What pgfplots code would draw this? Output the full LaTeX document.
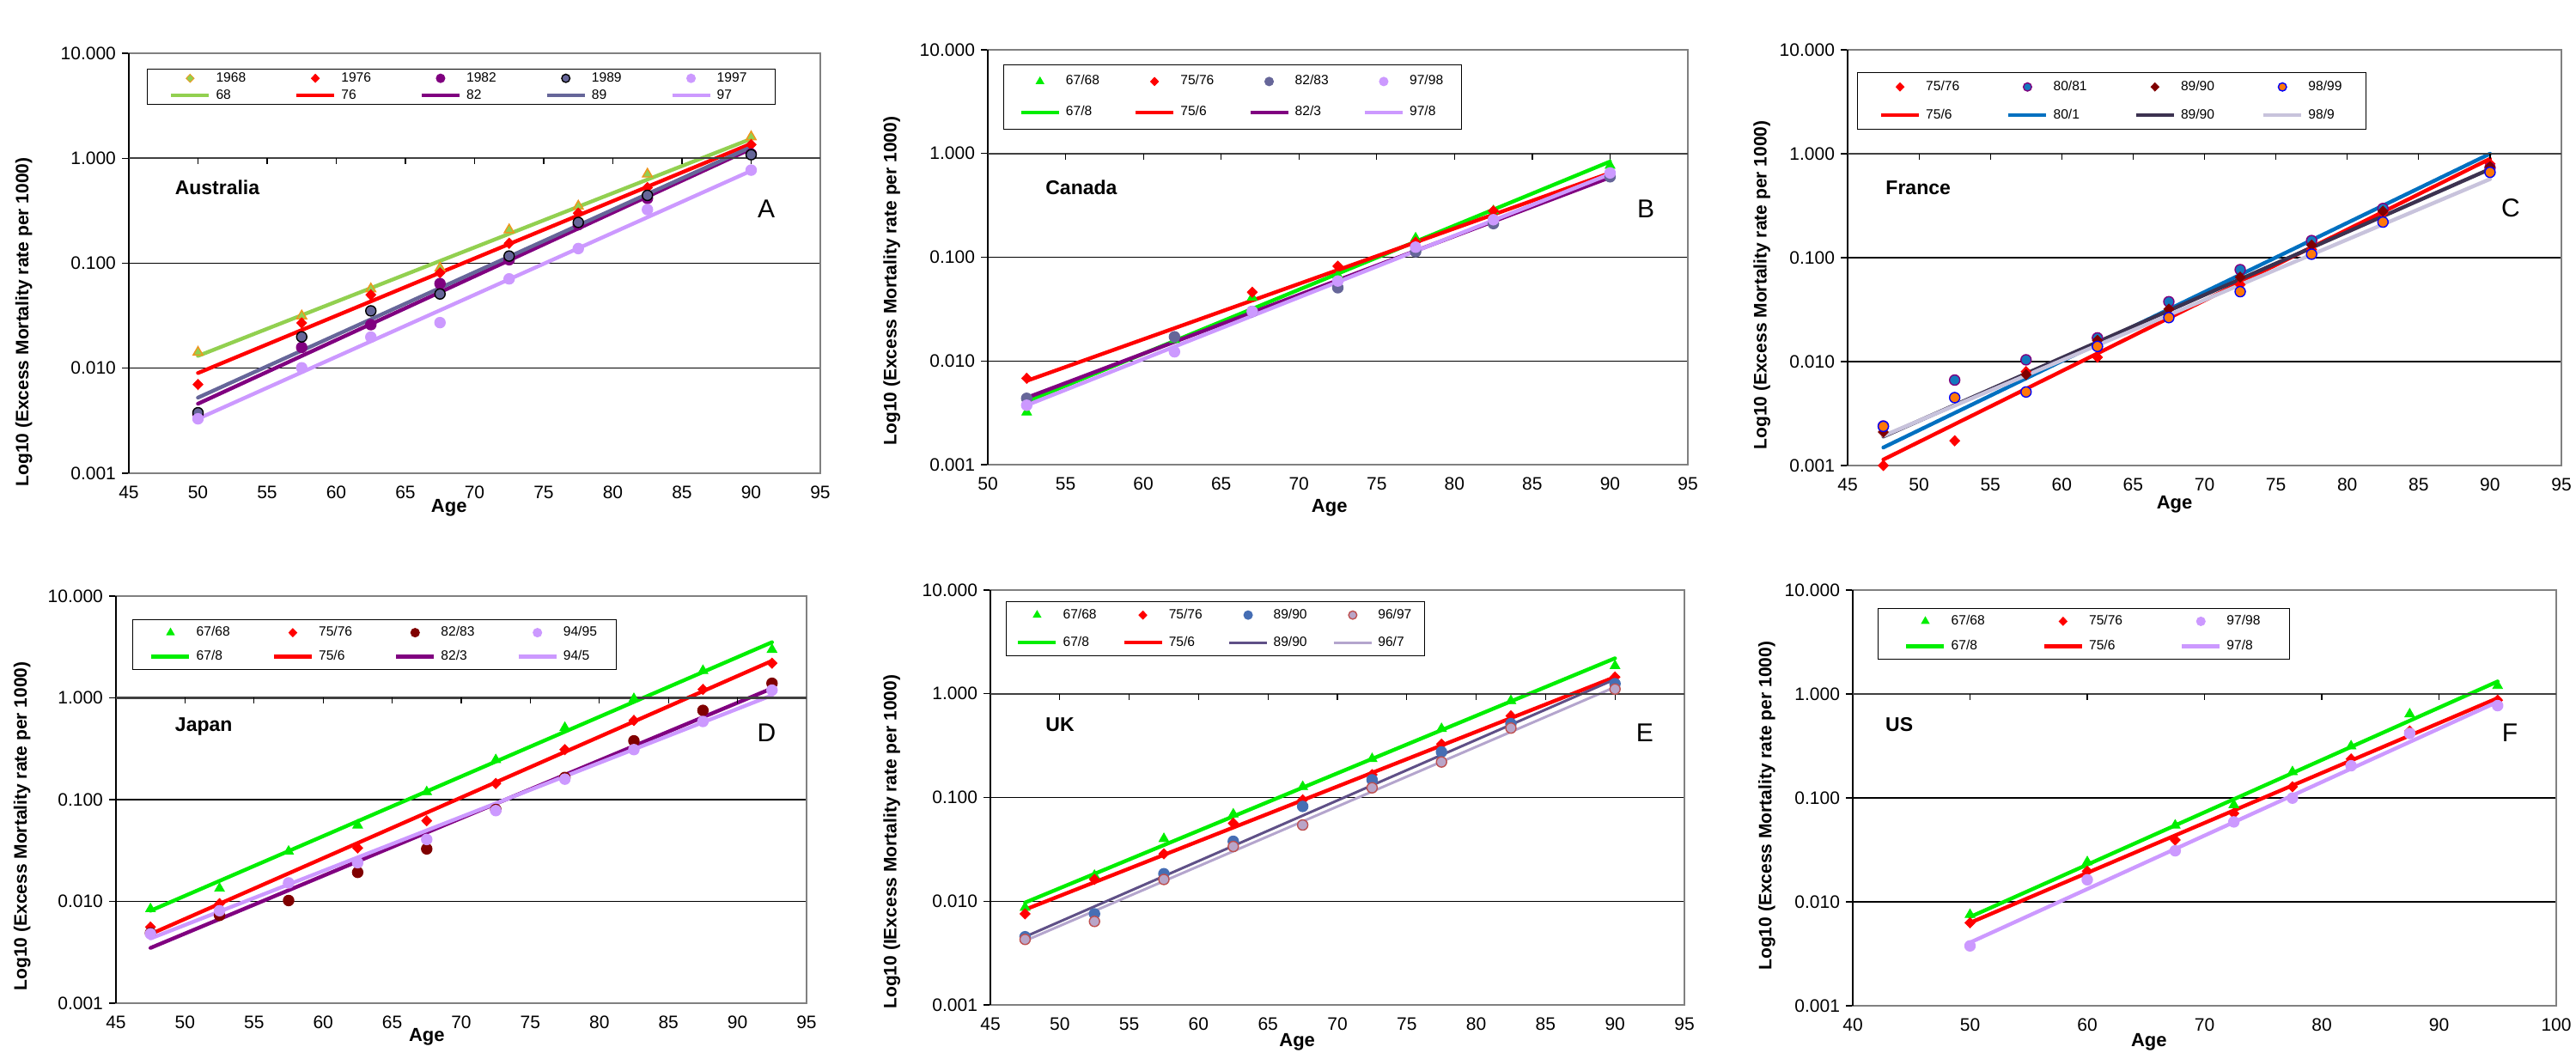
\documentclass[border=0pt]{standalone}
\usepackage{fontspec}
\setmainfont{Liberation Sans}
\usepackage{pgfplots}
\pgfplotsset{compat=1.18}
\definecolor{Agold}{RGB}{240,150,30}
\definecolor{Agreen}{RGB}{146,208,80}
\definecolor{myred}{RGB}{255,0,0}
\definecolor{mypurple}{RGB}{128,0,128}
\definecolor{slate}{RGB}{102,102,153}
\definecolor{lav}{RGB}{204,153,255}
\definecolor{mygreen}{RGB}{0,238,0}
\definecolor{Cblue}{RGB}{0,112,192}
\definecolor{Cblue2}{RGB}{20,120,190}
\definecolor{darkred}{RGB}{128,0,0}
\definecolor{Cnavy}{RGB}{60,50,80}
\definecolor{Corange}{RGB}{255,120,10}
\definecolor{Clight}{RGB}{200,195,220}
\definecolor{Eblue}{RGB}{70,110,180}
\definecolor{Eline}{RGB}{95,80,135}
\definecolor{Epink}{RGB}{185,165,200}
\definecolor{Eedge}{RGB}{190,80,80}
\definecolor{Eline2}{RGB}{180,165,205}
\pgfplotsset{
    scale only axis, ymin=0.001, ymax=10, clip=false,
    ytick={0.001,0.01,0.1,1,10}, yticklabels={0.001,0.010,0.100,1.000,10.000},
    yminorticks=false,
    ymajorgrids, grid style={black, line width=0.6pt},
    axis line style={draw=gray, line width=0.9pt},
    tick align=outside, ytick pos=left, xtick style={draw=none},
    ytick style={black, line width=0.6pt}, major tick length=4pt,
    tick label style={font=\fontsize{10.5}{12}\selectfont},
    /pgf/number format/assume math mode=true,
    xlabel style={font=\bfseries\fontsize{11}{13}\selectfont, anchor=center},
    ylabel style={font=\bfseries\fontsize{10.5}{12}\selectfont, anchor=center},
    legend cell align=left,
    legend style={font=\fontsize{7.8}{9}\selectfont, draw=black, line width=0.6pt,
      anchor=north west,
      nodes={inner xsep=1pt, inner ysep=0.5pt, text width=20pt, text height=5.6pt, text depth=1.6pt},
      /tikz/every odd column/.append style={column sep=2pt}},
  lineleg/.style={legend image code/.code={\draw[##1, line cap=butt] (0pt,0pt) -- (22pt,0pt);}},
  markleg/.style={legend image code/.code={\draw[##1, mark size=2.4pt] plot coordinates {(11pt,0pt)};}},
  dm/.style 2 args={only marks, mark=diamond*, mark size=3pt, mark options={solid, xscale=1.3, fill=#1, draw=#2, line width=0.4pt}},
  ci/.style 2 args={only marks, mark=*, mark size=3pt, mark options={solid, fill=#1, draw=#2, line width=0.7pt}},
  tr/.style={only marks, mark=triangle*, mark size=3.3pt, mark options={solid, fill=#1, draw=#1}},
  tr2/.style 2 args={only marks, mark=triangle*, mark size=3.3pt, mark options={solid, fill=#1, draw=#2, line width=0.7pt}},
  ln/.style={no marks, line width=2.2pt, line cap=round, color=#1},
  lnt/.style={no marks, line width=1.5pt, line cap=round, color=#1},
}
\newcommand{\frameextras}[1]{%
  \draw[black, line width=0.7pt] (rel axis cs:0,0) -- (rel axis cs:0,1);
  \draw[black!75, line width=1.1pt] (rel axis cs:0,0.75) -- (rel axis cs:1,0.75);
  \pgfplotsinvokeforeach{#1}{\draw[black, line width=0.6pt] (axis cs:##1,1) -- ([yshift=-3.5pt]axis cs:##1,1);}%
}
\newcommand{\country}[3]{\node[anchor=west, font=\bfseries\fontsize{11.5}{13}\selectfont] at (rel axis cs:#1,#2) {#3};}
\newcommand{\letter}[3]{\node[font=\fontsize{15}{17}\selectfont] at (rel axis cs:#1,#2) {#3};}
\begin{document}
\begin{tikzpicture}
\useasboundingbox (0,0) rectangle (1499.5pt,613pt);

% ---------------- A: Australia
\begin{semilogyaxis}[at={(75pt,337.5pt)}, anchor=south west, width=402.5pt, height=244.5pt,
  xmin=45, xmax=95, xtick={45,50,...,95},
  xlabel=Age,
  ylabel={Log10 (Excess Mortality rate per 1000)},
  ylabel style={at={(axis description cs:-0.152,0.36)}},
  xlabel style={at={(axis description cs:0.463,0)}, yshift=-20pt},
  legend columns=5,
  legend style={at={(0.026,0.963)}, inner xsep=12.8pt, inner ysep=1.15pt, row sep=1.8pt,
    /tikz/every even column/.append style={column sep=24.7pt}},
]
\addlegendimage{dm={Agreen}{Agold},markleg}\addlegendentry{1968}
\addlegendimage{dm={myred}{myred},markleg}\addlegendentry{1976}
\addlegendimage{ci={mypurple}{mypurple},markleg}\addlegendentry{1982}
\addlegendimage{ci={slate}{black},markleg}\addlegendentry{1989}
\addlegendimage{ci={lav}{lav},markleg}\addlegendentry{1997}
\addlegendimage{ln=Agreen,lineleg}\addlegendentry{68}
\addlegendimage{ln=myred,lineleg}\addlegendentry{76}
\addlegendimage{ln=mypurple,lineleg}\addlegendentry{82}
\addlegendimage{ln=slate,lineleg}\addlegendentry{89}
\addlegendimage{ln=lav,lineleg}\addlegendentry{97}
\addplot[ln=Agreen, forget plot] coordinates {(50,0.0131)(90,1.53)};
\addplot[ln=myred, forget plot] coordinates {(50,0.0090)(90,1.375)};
\addplot[ln=mypurple, forget plot] coordinates {(50,0.00459)(90,1.23)};
\addplot[ln=slate, forget plot] coordinates {(50,0.00525)(90,1.28)};
\addplot[ln=lav, forget plot] coordinates {(50,0.0033)(90,0.76)};
\addplot[tr2={Agreen}{Agold}, forget plot] coordinates {(50,0.0142)(57.5,0.0315)(62.5,0.057)(67.5,0.09)(72.5,0.208)(77.5,0.35)(82.5,0.706)(90,1.6)};
\addplot[dm={myred}{myred}, forget plot] coordinates {(50,0.0070)(57.5,0.027)(62.5,0.050)(67.5,0.081)(72.5,0.155)(77.5,0.30)(82.5,0.525)(90,1.35)};
\addplot[ci={mypurple}{mypurple}, forget plot] coordinates {(50,0.0037)(57.5,0.0158)(62.5,0.026)(67.5,0.064)(72.5,0.108)(77.5,0.233)(82.5,0.414)(90,1.10)};
\addplot[ci={slate}{black}, forget plot] coordinates {(50,0.00377)(57.5,0.0199)(62.5,0.0352)(67.5,0.051)(72.5,0.117)(77.5,0.245)(82.5,0.443)(90,1.08)};
\addplot[ci={lav}{lav}, forget plot] coordinates {(50,0.0033)(57.5,0.0101)(62.5,0.0198)(67.5,0.0272)(72.5,0.071)(77.5,0.138)(82.5,0.324)(90,0.771)};
\frameextras{50,55,...,90}
\country{0.058}{0.681}{Australia}
\letter{0.922}{0.630}{A}
\end{semilogyaxis}

% ---------------- B: Canada
\begin{semilogyaxis}[at={(575pt,342.5pt)}, anchor=south west, width=407.5pt, height=241.5pt,
  xmin=50, xmax=95, xtick={50,55,...,95},
  xlabel=Age,
  ylabel={Log10 (Excess Mortality rate per 1000)},
  ylabel style={at={(axis description cs:-0.137,0.443)}},
  xlabel style={at={(axis description cs:0.488,0)}, yshift=-25pt},
  legend columns=4,
  legend style={at={(0.022,0.965)}, inner xsep=9pt, inner ysep=5.6pt, row sep=9.8pt,
    /tikz/every even column/.append style={column sep=18.5pt}},
]
\addlegendimage{tr=mygreen,markleg}\addlegendentry{67/68}
\addlegendimage{dm={myred}{myred},markleg}\addlegendentry{75/76}
\addlegendimage{ci={slate}{slate},markleg}\addlegendentry{82/83}
\addlegendimage{ci={lav}{lav},markleg}\addlegendentry{97/98}
\addlegendimage{ln=mygreen,lineleg}\addlegendentry{67/8}
\addlegendimage{ln=myred,lineleg}\addlegendentry{75/6}
\addlegendimage{ln=mypurple,lineleg}\addlegendentry{82/3}
\addlegendimage{ln=lav,lineleg}\addlegendentry{97/8}
\addplot[ln=mygreen, forget plot] coordinates {(52.5,0.00404)(90,0.837)};
\addplot[ln=myred, forget plot] coordinates {(52.5,0.00643)(90,0.649)};
\addplot[ln=mypurple, forget plot] coordinates {(52.5,0.00442)(90,0.589)};
\addplot[ln=lav, forget plot] coordinates {(52.5,0.00374)(90,0.634)};
\addplot[tr=mygreen, forget plot] coordinates {(52.5,0.0032)(62,0.016)(67,0.041)(72.5,0.067)(77.5,0.153)(82.5,0.28)(90,0.766)};
\addplot[dm={myred}{myred}, forget plot] coordinates {(52.5,0.0068)(62,0.017)(67,0.046)(72.5,0.082)(77.5,0.14)(82.5,0.28)(90,0.65)};
\addplot[ci={slate}{slate}, forget plot] coordinates {(52.5,0.00436)(62,0.0171)(67,0.03)(72.5,0.0508)(77.5,0.113)(82.5,0.211)(90,0.597)};
\addplot[ci={lav}{lav}, forget plot] coordinates {(52.5,0.00374)(62,0.01225)(67,0.03)(72.5,0.059)(77.5,0.125)(82.5,0.23)(90,0.65)};
\frameextras{55,60,...,90}
\country{0.074}{0.668}{Canada}
\letter{0.940}{0.617}{B}
\end{semilogyaxis}

% ---------------- C: France
\begin{semilogyaxis}[at={(1075.5pt,342pt)}, anchor=south west, width=415.5pt, height=242pt,
  xmin=45, xmax=95, xtick={45,50,...,95},
  xlabel=Age,
  ylabel={Log10 (Excess Mortality rate per 1000)},
  ylabel style={at={(axis description cs:-0.120,0.434)}},
  xlabel style={at={(axis description cs:0.458,0)}, yshift=-22.5pt},
  legend columns=4,
  legend style={at={(0.013,0.946)}, inner xsep=12.7pt, inner ysep=4.15pt, row sep=8.3pt,
    /tikz/every even column/.append style={column sep=26pt}},
]
\addlegendimage{dm={myred}{myred},markleg}\addlegendentry{75/76}
\addlegendimage{ci={Cblue2}{mypurple},markleg}\addlegendentry{80/81}
\addlegendimage{dm={darkred}{darkred},markleg}\addlegendentry{89/90}
\addlegendimage{ci={Corange}{blue},markleg}\addlegendentry{98/99}
\addlegendimage{ln=myred,lineleg}\addlegendentry{75/6}
\addlegendimage{ln=Cblue,lineleg}\addlegendentry{80/1}
\addlegendimage{ln=Cnavy,lineleg}\addlegendentry{89/90}
\addlegendimage{ln=Clight,lineleg}\addlegendentry{98/9}
\addplot[ln=myred, forget plot] coordinates {(47.5,0.00114)(90,0.894)};
\addplot[ln=Cblue, forget plot] coordinates {(47.5,0.00149)(90,1.0)};
\addplot[ln=Cnavy, forget plot] coordinates {(47.5,0.0019)(90,0.713)};
\addplot[ln=Clight, forget plot] coordinates {(47.5,0.00193)(90,0.57)};
\addplot[dm={myred}{myred}, forget plot] coordinates {(47.5,0.001)(52.5,0.00173)(57.5,0.008)(62.5,0.011)(67.5,0.0265)(72.5,0.055)(77.5,0.12)(82.5,0.27)(90,0.8)};
\addplot[ci={Cblue2}{mypurple}, forget plot] coordinates {(47.5,0.0024)(52.5,0.00664)(57.5,0.0104)(62.5,0.0169)(67.5,0.0377)(72.5,0.0767)(77.5,0.146)(82.5,0.297)(90,0.73)};
\addplot[dm={darkred}{darkred}, forget plot] coordinates {(47.5,0.0021)(52.5,0.0045)(57.5,0.0075)(62.5,0.016)(67.5,0.032)(72.5,0.065)(77.5,0.132)(82.5,0.28)(90,0.75)};
\addplot[ci={Corange}{blue}, forget plot] coordinates {(47.5,0.00238)(52.5,0.0045)(57.5,0.0051)(62.5,0.014)(67.5,0.0265)(72.5,0.0471)(77.5,0.108)(82.5,0.22)(90,0.663)};
\frameextras{50,55,...,90}
\country{0.045}{0.668}{France}
\letter{0.929}{0.620}{C}
\end{semilogyaxis}

% ---------------- D: Japan
\begin{semilogyaxis}[at={(67.5pt,29pt)}, anchor=south west, width=402pt, height=237pt,
  xmin=45, xmax=95, xtick={45,50,...,95},
  xlabel=Age,
  ylabel={Log10 (Excess Mortality rate per 1000)},
  ylabel style={at={(axis description cs:-0.136,0.435)}},
  xlabel style={at={(axis description cs:0.450,0)}, yshift=-19.5pt},
  legend columns=4,
  legend style={at={(0.024,0.943)}, inner xsep=9.7pt, inner ysep=3.4pt, row sep=5.8pt,
    /tikz/every even column/.append style={column sep=23pt}},
]
\addlegendimage{tr=mygreen,markleg}\addlegendentry{67/68}
\addlegendimage{dm={myred}{myred},markleg}\addlegendentry{75/76}
\addlegendimage{ci={darkred}{darkred},markleg}\addlegendentry{82/83}
\addlegendimage{ci={lav}{lav},markleg}\addlegendentry{94/95}
\addlegendimage{ln=mygreen,lineleg}\addlegendentry{67/8}
\addlegendimage{ln=myred,lineleg}\addlegendentry{75/6}
\addlegendimage{ln=mypurple,lineleg}\addlegendentry{82/3}
\addlegendimage{ln=lav,lineleg}\addlegendentry{94/5}
\addplot[ln=mygreen, forget plot] coordinates {(47.5,0.0081)(92.5,3.52)};
\addplot[ln=myred, forget plot] coordinates {(47.5,0.00477)(92.5,2.31)};
\addplot[ln=mypurple, forget plot] coordinates {(47.5,0.00349)(92.5,1.24)};
\addplot[ln=lav, forget plot] coordinates {(47.5,0.00432)(92.5,1.06)};
\addplot[tr=mygreen, forget plot] coordinates {(47.5,0.00843)(52.5,0.0134)(57.5,0.031)(62.5,0.056)(67.5,0.119)(72.5,0.246)(77.5,0.51)(82.5,0.98)(87.5,1.85)(92.5,2.98)};
\addplot[dm={myred}{myred}, forget plot] coordinates {(47.5,0.0056)(52.5,0.0095)(57.5,0.015)(62.5,0.0335)(67.5,0.062)(72.5,0.144)(77.5,0.31)(82.5,0.60)(87.5,1.21)(92.5,2.19)};
\addplot[ci={darkred}{darkred}, forget plot] coordinates {(47.5,0.0049)(52.5,0.0073)(57.5,0.0102)(62.5,0.0193)(67.5,0.0328)(72.5,0.08)(77.5,0.165)(82.5,0.378)(87.5,0.753)(92.5,1.39)};
\addplot[ci={lav}{lav}, forget plot] coordinates {(47.5,0.0048)(52.5,0.0081)(57.5,0.0152)(62.5,0.024)(67.5,0.0406)(72.5,0.078)(77.5,0.159)(82.5,0.31)(87.5,0.586)(92.5,1.19)};
\frameextras{50,55,...,90}
\country{0.077}{0.679}{Japan}
\letter{0.942}{0.665}{D}
\end{semilogyaxis}

% ---------------- E: UK
\begin{semilogyaxis}[at={(576.5pt,28pt)}, anchor=south west, width=404pt, height=241.5pt,
  xmin=45, xmax=95, xtick={45,50,...,95},
  xlabel=Age,
  ylabel={Log10 (IExcess Mortality rate per 1000)},
  ylabel style={at={(axis description cs:-0.142,0.393)}},
  xlabel style={at={(axis description cs:0.442,0)}, yshift=-21.5pt},
  legend columns=4,
  legend style={at={(0.022,0.973)}, inner xsep=5.9pt, inner ysep=3.65pt, row sep=7.8pt,
    /tikz/every even column/.append style={column sep=13.4pt}},
]
\addlegendimage{tr=mygreen,markleg}\addlegendentry{67/68}
\addlegendimage{dm={myred}{myred},markleg}\addlegendentry{75/76}
\addlegendimage{ci={Eblue}{Eblue},markleg}\addlegendentry{89/90}
\addlegendimage{ci={Epink}{Eedge},markleg}\addlegendentry{96/97}
\addlegendimage{ln=mygreen,lineleg}\addlegendentry{67/8}
\addlegendimage{ln=myred,lineleg}\addlegendentry{75/6}
\addlegendimage{lnt=Eline,lineleg}\addlegendentry{89/90}
\addlegendimage{lnt=Eline2,lineleg}\addlegendentry{96/7}
\addplot[ln=mygreen, forget plot] coordinates {(47.5,0.0097)(90,2.2)};
\addplot[ln=myred, forget plot] coordinates {(47.5,0.0083)(90,1.45)};
\addplot[lnt=Eline, forget plot] coordinates {(47.5,0.00454)(90,1.38)};
\addplot[lnt=Eline2, forget plot] coordinates {(47.5,0.00415)(90,1.16)};
\addplot[tr=mygreen, forget plot] coordinates {(47.5,0.0087)(52.5,0.0177)(57.5,0.040)(62.5,0.069)(67.5,0.127)(72.5,0.236)(77.5,0.46)(82.5,0.855)(90,1.86)};
\addplot[dm={myred}{myred}, forget plot] coordinates {(47.5,0.00755)(52.5,0.0162)(57.5,0.0286)(62.5,0.0565)(67.5,0.095)(72.5,0.166)(77.5,0.327)(82.5,0.612)(90,1.45)};
\addplot[ci={Eblue}{Eblue}, forget plot] coordinates {(47.5,0.00454)(52.5,0.00755)(57.5,0.0184)(62.5,0.0378)(67.5,0.082)(72.5,0.148)(77.5,0.275)(82.5,0.515)(90,1.25)};
\addplot[ci={Epink}{Eedge}, forget plot] coordinates {(47.5,0.00428)(52.5,0.00638)(57.5,0.0162)(62.5,0.0337)(67.5,0.0543)(72.5,0.124)(77.5,0.22)(82.5,0.467)(90,1.11)};
\frameextras{50,55,...,90}
\country{0.071}{0.675}{UK}
\letter{0.943}{0.656}{E}
\end{semilogyaxis}

% ---------------- F: US
\begin{semilogyaxis}[at={(1078.5pt,27.5pt)}, anchor=south west, width=409.5pt, height=242pt,
  xmin=40, xmax=100, xtick={40,50,...,100},
  xlabel=Age,
  ylabel={Log10 (Excess Mortality rate per 1000)},
  ylabel style={at={(axis description cs:-0.122,0.481)}},
  xlabel style={at={(axis description cs:0.421,0)}, yshift=-21pt},
  legend columns=3,
  legend style={at={(0.035,0.957)}, inner xsep=15.5pt, inner ysep=3.4pt, row sep=6.3pt,
    /tikz/every even column/.append style={column sep=32pt}},
]
\addlegendimage{tr=mygreen,markleg}\addlegendentry{67/68}
\addlegendimage{dm={myred}{myred},markleg}\addlegendentry{75/76}
\addlegendimage{ci={lav}{lav},markleg}\addlegendentry{97/98}
\addlegendimage{ln=mygreen,lineleg}\addlegendentry{67/8}
\addlegendimage{ln=myred,lineleg}\addlegendentry{75/6}
\addlegendimage{ln=lav,lineleg}\addlegendentry{97/8}
\addplot[ln=mygreen, forget plot] coordinates {(50,0.00715)(95,1.32)};
\addplot[ln=myred, forget plot] coordinates {(50,0.00629)(95,0.913)};
\addplot[ln=lav, forget plot] coordinates {(50,0.00406)(95,0.84)};
\addplot[tr=mygreen, forget plot] coordinates {(50,0.00753)(60,0.0242)(67.5,0.0545)(72.5,0.0857)(77.5,0.178)(82.5,0.315)(87.5,0.64)(95,1.2)};
\addplot[dm={myred}{myred}, forget plot] coordinates {(50,0.00629)(60,0.0197)(67.5,0.0394)(72.5,0.071)(77.5,0.128)(82.5,0.237)(87.5,0.44)(95,0.872)};
\addplot[ci={lav}{lav}, forget plot] coordinates {(50,0.00377)(60,0.0163)(67.5,0.031)(72.5,0.0588)(77.5,0.0996)(82.5,0.204)(87.5,0.417)(95,0.773)};
\frameextras{50,60,...,90}
\country{0.038}{0.676}{US}
\letter{0.934}{0.657}{F}
\end{semilogyaxis}
\end{tikzpicture}
\end{document}
